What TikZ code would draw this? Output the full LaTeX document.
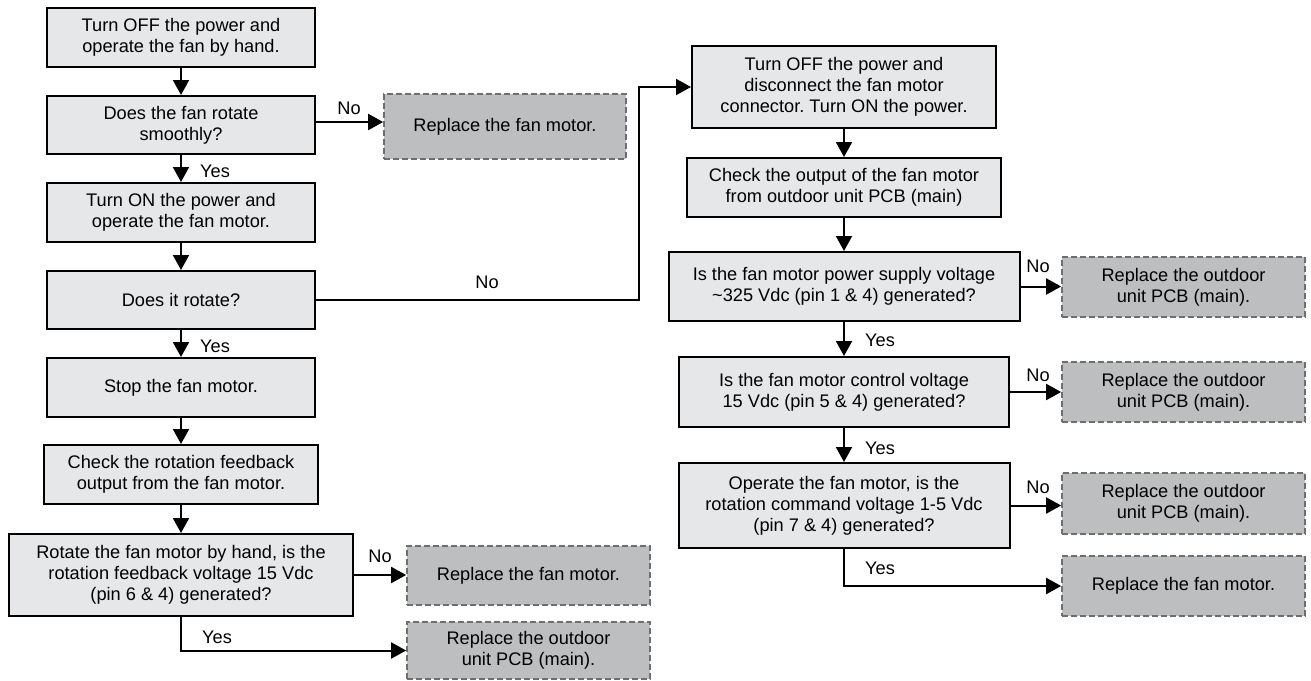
\documentclass[tikz,border=0pt]{standalone}
\usepackage{fontspec}
\setmainfont{Liberation Sans}
\usetikzlibrary{arrows.meta}
\definecolor{boxfill}{HTML}{E6E7E8}
\definecolor{replfill}{HTML}{BCBEC0}
\definecolor{dashgray}{HTML}{6D6E71}
\newcommand{\mytext}{\fontsize{18.2}{21}\selectfont\frenchspacing}
\tikzset{
  proc/.style={draw=black, line width=2pt, fill=boxfill, align=center, inner sep=0pt, font=\mytext},
  repl/.style={draw=dashgray, dash pattern=on 6pt off 3pt, line width=1.7pt, fill=replfill, align=center, inner sep=0pt, font=\mytext},
  conn/.style={line width=2pt, -{Triangle[length=15pt,width=16pt]}},
  lbl/.style={font=\mytext, inner sep=0pt},
}
\begin{document}
\begin{tikzpicture}[x=1pt,y=-1pt]
\useasboundingbox (0,0) rectangle (1311,680);
% left column
\node[proc, minimum width=268pt, minimum height=59pt] (b1) at (181,37.5) {Turn OFF the power and\\operate the fan by hand.};
\node[proc, minimum width=268pt, minimum height=58pt] (b2) at (181,125) {Does the fan rotate\\smoothly?};
\node[repl, minimum width=242pt, minimum height=65pt] (rep1) at (505,126.5) {Replace the fan motor.};
\node[proc, minimum width=268pt, minimum height=59pt] (b3) at (181,212.5) {Turn ON the power and\\operate the fan motor.};
\node[proc, minimum width=268pt, minimum height=58pt] (b4) at (181,300) {Does it rotate?};
\node[proc, minimum width=268pt, minimum height=59pt] (b5) at (181,387.5) {Stop the fan motor.};
\node[proc, minimum width=274pt, minimum height=59pt] (b6) at (181,474.5) {Check the rotation feedback\\output from the fan motor.};
\node[proc, minimum width=344pt, minimum height=82pt] (b7) at (181,575) {Rotate the fan motor by hand, is the\\rotation feedback voltage 15 Vdc\\(pin 6 \& 4) generated?};
\node[repl, minimum width=243pt, minimum height=59pt] (rep2) at (528.5,575.5) {Replace the fan motor.};
\node[repl, minimum width=243pt, minimum height=57pt] (rep3) at (528.5,650.5) {Replace the outdoor\\unit PCB (main).};
% right column
\node[proc, minimum width=304pt, minimum height=82pt] (r1) at (844,87) {Turn OFF the power and\\disconnect the fan motor\\connector. Turn ON the power.};
\node[proc, minimum width=314pt, minimum height=59pt] (r2) at (844,187.5) {Check the output of the fan motor\\from outdoor unit PCB (main)};
\node[proc, minimum width=351pt, minimum height=69pt] (r3) at (844,286.5) {Is the fan motor power supply voltage\\\textasciitilde325 Vdc (pin 1 \& 4) generated?};
\node[repl, minimum width=243pt, minimum height=60pt] (rr3) at (1183.5,287) {Replace the outdoor\\unit PCB (main).};
\node[proc, minimum width=330pt, minimum height=70pt] (r4) at (844,392) {Is the fan motor control voltage\\15 Vdc (pin 5 \& 4) generated?};
\node[repl, minimum width=243pt, minimum height=60pt] (rr4) at (1183.5,392) {Replace the outdoor\\unit PCB (main).};
\node[proc, minimum width=331pt, minimum height=85pt] (r5) at (844,505.5) {Operate the fan motor, is the\\rotation command voltage 1-5 Vdc\\(pin 7 \& 4) generated?};
\node[repl, minimum width=243pt, minimum height=61pt] (rr5) at (1183.5,503.5) {Replace the outdoor\\unit PCB (main).};
\node[repl, minimum width=243pt, minimum height=60pt] (rr6) at (1183.5,586) {Replace the fan motor.};
% connectors left
\draw[conn] (b1) -- (b2);
\draw[conn] ([yshift=3pt]b2.east) -- ([yshift=3pt]b2.east -| rep1.west);
\draw[conn] (b2) -- (b3);
\draw[conn] (b3) -- (b4);
\coordinate (k1) at (639,87);
\draw[conn] (b4.east) -| (k1) -- (r1.west);
\draw[conn] (b4) -- (b5);
\draw[conn] (b5) -- (b6);
\draw[conn] (b6) -- (b7);
\draw[conn] (b7.east) -- (b7.east -| rep2.west);
\draw[conn] (b7.south) |- (rep3.west);
% connectors right
\draw[conn] (r1) -- (r2);
\draw[conn] (r2) -- (r3);
\draw[conn] (r3.east) -- (r3.east -| rr3.west);
\draw[conn] (r3) -- (r4);
\draw[conn] (r4.east) -- (r4.east -| rr4.west);
\draw[conn] (r4) -- (r5);
\draw[conn] (r5.east) -- (r5.east -| rr5.west);
\draw[conn] (r5.south) |- (rr6.west);
% labels
\node[lbl] (l1) at (349,108) {No};
\node[lbl] (l2) at (215,171) {Yes};
\node[lbl] (l3) at (487,282) {No};
\node[lbl] (l4) at (215,346) {Yes};
\node[lbl] (l5) at (380,556) {No};
\node[lbl] (l6) at (217,637) {Yes};
\node[lbl] (l7) at (1038,266) {No};
\node[lbl] (l8) at (880,340) {Yes};
\node[lbl] (l9) at (1038,375) {No};
\node[lbl] (l10) at (880,448) {Yes};
\node[lbl] (l11) at (1038,487) {No};
\node[lbl] (l12) at (880,568) {Yes};
\end{tikzpicture}
\end{document}
